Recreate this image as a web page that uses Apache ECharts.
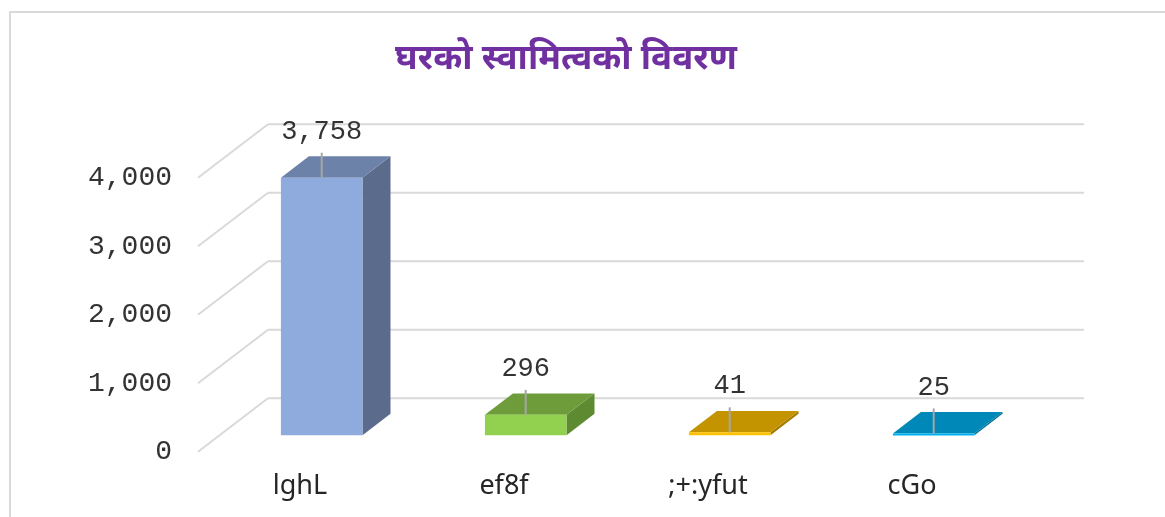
<!DOCTYPE html>
<html>
<head>
<meta charset="utf-8">
<script src="https://cdn.jsdelivr.net/npm/echarts@6/dist/echarts.min.js"></script>
<style>
  html, body { margin: 0; padding: 0; background: #fff; }
  #main { width: 1165px; height: 517px; }
</style>
</head>
<body>
<div id="main"></div>
<script>
var categories = ["lghL", "ef8f", ";+:yfut", "cGo"];
var values = [3758, 296, 41, 25];
var yTicks = [0, 1000, 2000, 3000, 4000];

// front / top / side colours for each bar
var faceColors = [
  ["#8faadc", "#6d82a9", "#5b6b8c"],
  ["#92d050", "#6f9c3a", "#5e8a31"],
  ["#ffc000", "#c39400", "#a27a00"],
  ["#00b0f0", "#0088b8", "#006f98"]
];

var DEPTH = [70, -53.4]; // oblique depth of the floor
var BAR_OFF = 0.31, BAR_DEPTH = 0.4;
var monoFont = "Liberation Mono";

var myChart = echarts.init(document.getElementById("main"));

function renderGrid(params, api) {
  var cs = params.coordSys;
  var y = api.coord([0, api.value(1)])[1];
  var style = { stroke: "#d9d9d9", lineWidth: 2 };
  return {
    type: "group",
    children: [
      { type: "line", shape: { x1: cs.x, y1: y, x2: cs.x + DEPTH[0], y2: y + DEPTH[1] }, style: style },
      { type: "line", shape: { x1: cs.x + DEPTH[0], y1: y + DEPTH[1], x2: cs.x + cs.width + DEPTH[0], y2: y + DEPTH[1] }, style: style }
    ]
  };
}

function renderBar(params, api) {
  var i = api.value(0), v = api.value(1);
  var base = api.coord([i, 0]);
  var top = api.coord([i, v]);
  var w = api.size([1, 0])[0] * 0.4;
  var ox = DEPTH[0] * BAR_OFF, oy = DEPTH[1] * BAR_OFF;
  var dx = DEPTH[0] * BAR_DEPTH, dy = DEPTH[1] * BAR_DEPTH;
  var x0 = base[0] - w / 2 + ox, x1 = x0 + w;
  var yb = base[1] + oy, yt = top[1] + oy;
  var c = faceColors[params.dataIndex];
  var cx = (x0 + x1) / 2;
  var labelY = yt - 46;
  return {
    type: "group",
    children: [
      { type: "polygon", shape: { points: [[x1, yb], [x1 + dx, yb + dy], [x1 + dx, yt + dy], [x1, yt]] }, style: { fill: c[2] } },
      { type: "polygon", shape: { points: [[x0, yt], [x1, yt], [x1 + dx, yt + dy], [x0 + dx, yt + dy]] }, style: { fill: c[1] } },
      { type: "rect", shape: { x: x0, y: yt, width: w, height: Math.max(yb - yt, 2) }, style: { fill: c[0] } },
      { type: "line", shape: { x1: cx, y1: yt, x2: cx, y2: labelY + 21 }, style: { stroke: "#a6a6a6", lineWidth: 2 } },
      { type: "text", style: { x: cx, y: labelY, text: v.toLocaleString("en-US"), fill: "#333333",
          font: "27px '" + monoFont + "'", align: "center", verticalAlign: "middle" } }
    ]
  };
}

var option = {
  animation: false,
  title: {
    text: "घरको स्वामित्वको विवरण",
    left: 561,
    top: 40,
    textAlign: "center",
    textStyle: { color: "#7030a0", fontSize: 35, fontWeight: "bold",
      fontFamily: "'Noto Sans Devanagari', 'Lohit Devanagari', 'Noto Sans', sans-serif" }
  },
  graphic: [
    { type: "rect", shape: { x: 10, y: 12, width: 1200, height: 600 }, style: { fill: null, stroke: "#d9d9d9", lineWidth: 2 }, silent: true }
  ],
  grid: { left: 198, right: 151, top: 177.7, bottom: 65.3, containLabel: false },
  xAxis: {
    type: "category",
    data: categories,
    axisLine: { show: false },
    axisTick: { show: false },
    axisLabel: { color: "#262626", fontSize: 27, fontFamily: "Noto Sans", margin: 21 }
  },
  yAxis: {
    type: "value",
    min: 0,
    max: 4000,
    interval: 1000,
    axisLine: { show: false },
    axisTick: { show: false },
    splitLine: { show: false },
    axisLabel: {
      color: "#333333", fontSize: 28, fontFamily: monoFont, margin: 26,
      formatter: function (v) { return v.toLocaleString("en-US"); }
    }
  },
  series: [
    {
      type: "custom",
      renderItem: renderGrid,
      data: yTicks.map(function (t) { return [0, t]; }),
      silent: true,
      z: 1
    },
    {
      type: "custom",
      renderItem: renderBar,
      data: values.map(function (v, i) { return [i, v]; }),
      z: 5
    }
  ]
};

myChart.setOption(option);
</script>
</body>
</html>
